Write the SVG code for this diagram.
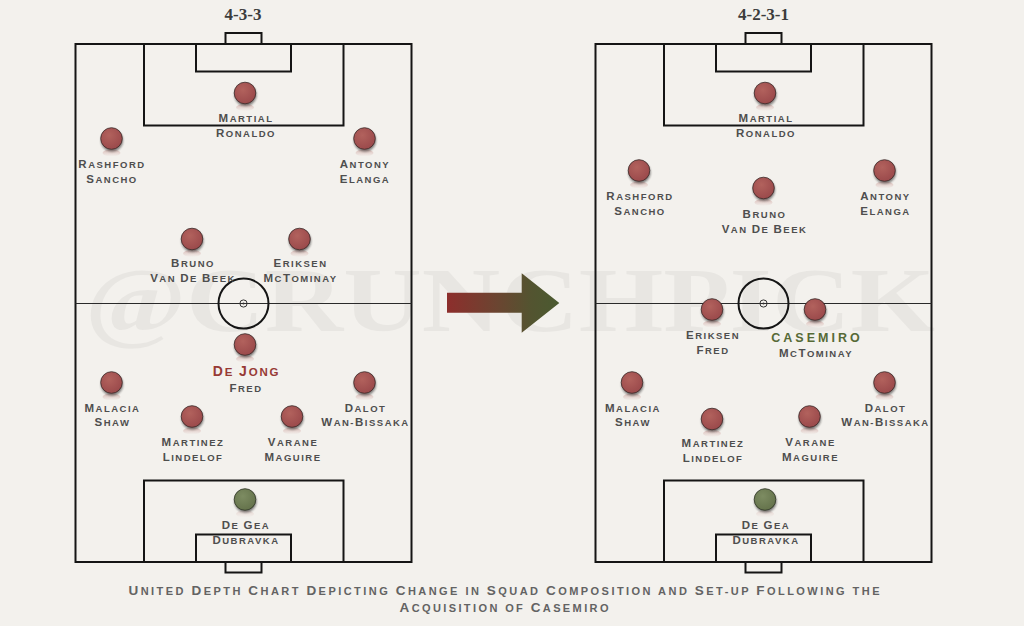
<svg xmlns="http://www.w3.org/2000/svg" xmlns:xlink="http://www.w3.org/1999/xlink" width="1024" height="626" viewBox="0 0 1024 626">
<style>
.ln{fill:none;stroke:#151515;stroke-width:2}
.hl{fill:none;stroke:#2a2a2a;stroke-width:1}
.nm{font-family:"Liberation Sans",Arial,sans-serif;font-weight:bold;font-size:9.5px;text-transform:uppercase;letter-spacing:1.5px;fill:#4e4e4e;text-anchor:middle}
.nm .c{font-size:11.5px}
.red{font-size:11.5px;letter-spacing:1.8px;fill:#973a35}
.red .c{font-size:14px}
.cas{font-family:"Liberation Sans",Arial,sans-serif;font-weight:bold;font-size:12.5px;letter-spacing:3px;fill:#566a36;text-anchor:middle}
.ttl{font-family:"Liberation Serif","Times New Roman",serif;font-weight:bold;font-size:17px;fill:#3c3c3c;text-anchor:middle}
.cap{font-family:"Liberation Sans",Arial,sans-serif;font-weight:bold;font-size:11px;text-transform:uppercase;fill:#636363;text-anchor:middle}
.cap .c{font-size:13.5px}
.wm{font-family:"Liberation Serif","Times New Roman",serif;font-weight:bold;font-size:92px;fill:#000;fill-opacity:0.045}
</style>
<defs>
<radialGradient id="rg" cx="0.4" cy="0.35" r="0.7">
<stop offset="0" stop-color="#b2625d"/><stop offset="1" stop-color="#99484a"/>
</radialGradient>
<radialGradient id="gg" cx="0.4" cy="0.35" r="0.7">
<stop offset="0" stop-color="#7d8c62"/><stop offset="1" stop-color="#63714a"/>
</radialGradient>
<linearGradient id="refl" x1="0" y1="0" x2="0" y2="1">
<stop offset="0" stop-color="#b0605b" stop-opacity="0.35"/><stop offset="1" stop-color="#b0605b" stop-opacity="0"/>
</linearGradient>
<linearGradient id="arr" x1="447" y1="0" x2="559" y2="0" gradientUnits="userSpaceOnUse">
<stop offset="0" stop-color="#8d2e2c"/><stop offset="0.45" stop-color="#6b4531"/><stop offset="0.75" stop-color="#535430"/><stop offset="1" stop-color="#4a5a30"/>
</linearGradient>
<filter id="blur" x="-50%" y="-50%" width="200%" height="200%"><feGaussianBlur stdDeviation="1.3"/></filter>
<g id="disc">
<ellipse cx="0" cy="14.5" rx="9" ry="3.5" fill="url(#refl)"/>
<circle cx="0.5" cy="2" r="11" fill="#1e1e1e" opacity="0.55" filter="url(#blur)"/>
<circle r="10.8" fill="url(#rg)" stroke="#3a2b29" stroke-width="0.8"/>
</g>
<g id="discG">
<ellipse cx="0" cy="14.5" rx="9" ry="3.5" fill="url(#refl)" opacity="0.5"/>
<circle cx="0.5" cy="2" r="11" fill="#1e1e1e" opacity="0.55" filter="url(#blur)"/>
<circle r="10.8" fill="url(#gg)" stroke="#2f3526" stroke-width="0.8"/>
</g>
<g id="pitch">
<rect class="ln" x="75.5" y="44" width="336" height="518"/>
<rect class="ln" x="144" y="44" width="199.5" height="81.5"/>
<rect class="ln" x="196" y="44" width="95" height="27.5"/>
<rect class="ln" x="225.5" y="33" width="36" height="11"/>
<rect class="ln" x="144" y="480.5" width="199.5" height="81.5"/>
<rect class="ln" x="196" y="534.5" width="95" height="27.5"/>
<rect class="ln" x="225.5" y="562" width="36" height="10.5"/>
<line class="hl" x1="75.5" y1="303.5" x2="411.5" y2="303.5"/>
<circle class="ln" cx="243.5" cy="303.5" r="25"/>
<circle cx="243.5" cy="303.5" r="3.6" fill="none" stroke="#333" stroke-width="1"/>
<circle cx="243.5" cy="303.5" r="1" fill="#333"/>
</g>
</defs>
<rect width="1024" height="626" fill="#f3f1ed"/>
<text class="wm" x="85" y="331" textLength="850" lengthAdjust="spacingAndGlyphs">@CRUNCHPICK</text>

<g id="pitch-left"><use xlink:href="#pitch"/><text class="ttl" x="243" y="20">4-3-3</text></g>
<g id="pitch-right"><use xlink:href="#pitch" x="520"/><text class="ttl" x="763.5" y="20">4-2-3-1</text></g>

<g id="connectors"><path d="M447 292.7 H521.7 V273.3 L559.3 303 L521.7 332.7 V312.7 H447 Z" fill="url(#arr)"/></g>

<g id="l-fw"><use xlink:href="#disc" x="245" y="93"/><text class="nm" x="246" y="122"><tspan class="c">M</tspan>artial</text><text class="nm" x="246" y="137"><tspan class="c">R</tspan>onaldo</text></g>
<g id="l-lw"><use xlink:href="#disc" x="111.5" y="138.5"/><text class="nm" x="112" y="168"><tspan class="c">R</tspan>ashford</text><text class="nm" x="112" y="183"><tspan class="c">S</tspan>ancho</text></g>
<g id="l-rw"><use xlink:href="#disc" x="364.5" y="138.5"/><text class="nm" x="365" y="168"><tspan class="c">A</tspan>ntony</text><text class="nm" x="365" y="183"><tspan class="c">E</tspan>langa</text></g>
<g id="l-lcm"><use xlink:href="#disc" x="192" y="239"/><text class="nm" x="193" y="267"><tspan class="c">B</tspan>runo</text><text class="nm" x="193" y="282"><tspan class="c">V</tspan>an <tspan class="c">D</tspan>e <tspan class="c">B</tspan>eek</text></g>
<g id="l-rcm"><use xlink:href="#disc" x="299.5" y="239"/><text class="nm" x="300.5" y="267"><tspan class="c">E</tspan>riksen</text><text class="nm" x="300.5" y="282"><tspan class="c">M</tspan>c<tspan class="c">T</tspan>ominay</text></g>
<g id="l-dm"><use xlink:href="#disc" x="245" y="344.5"/><text class="nm red" x="246.5" y="376"><tspan class="c">D</tspan>e <tspan class="c">J</tspan>ong</text><text class="nm" x="246" y="391.5"><tspan class="c">F</tspan>red</text></g>
<g id="l-lb"><use xlink:href="#disc" x="111.5" y="382.5"/><text class="nm" x="112.5" y="411.5"><tspan class="c">M</tspan>alacia</text><text class="nm" x="112.5" y="426"><tspan class="c">S</tspan>haw</text></g>
<g id="l-rb"><use xlink:href="#disc" x="364.5" y="382.5"/><text class="nm" x="365.5" y="411.5"><tspan class="c">D</tspan>alot</text><text class="nm" x="365.5" y="426"><tspan class="c">W</tspan>an-<tspan class="c">B</tspan>issaka</text></g>
<g id="l-lcb"><use xlink:href="#disc" x="192" y="416.5"/><text class="nm" x="193" y="446"><tspan class="c">M</tspan>artinez</text><text class="nm" x="193" y="460.5"><tspan class="c">L</tspan>indelof</text></g>
<g id="l-rcb"><use xlink:href="#disc" x="292" y="416.5"/><text class="nm" x="293" y="446"><tspan class="c">V</tspan>arane</text><text class="nm" x="293" y="460.5"><tspan class="c">M</tspan>aguire</text></g>
<g id="l-gk"><use xlink:href="#discG" x="245" y="499.5"/><text class="nm" x="246" y="529"><tspan class="c">D</tspan>e <tspan class="c">G</tspan>ea</text><text class="nm" x="246" y="544"><tspan class="c">D</tspan>ubravka</text></g>

<g id="r-fw"><use xlink:href="#disc" x="765" y="93"/><text class="nm" x="766" y="122"><tspan class="c">M</tspan>artial</text><text class="nm" x="766" y="137"><tspan class="c">R</tspan>onaldo</text></g>
<g id="r-lw"><use xlink:href="#disc" x="639" y="170.5"/><text class="nm" x="640" y="199.5"><tspan class="c">R</tspan>ashford</text><text class="nm" x="640" y="214.5"><tspan class="c">S</tspan>ancho</text></g>
<g id="r-rw"><use xlink:href="#disc" x="884.5" y="170.5"/><text class="nm" x="885.5" y="199.5"><tspan class="c">A</tspan>ntony</text><text class="nm" x="885.5" y="214.5"><tspan class="c">E</tspan>langa</text></g>
<g id="r-am"><use xlink:href="#disc" x="763.5" y="188"/><text class="nm" x="764.5" y="217.5"><tspan class="c">B</tspan>runo</text><text class="nm" x="764.5" y="232.5"><tspan class="c">V</tspan>an <tspan class="c">D</tspan>e <tspan class="c">B</tspan>eek</text></g>
<g id="r-ldm"><use xlink:href="#disc" x="712" y="309.5"/><text class="nm" x="713" y="338.5"><tspan class="c">E</tspan>riksen</text><text class="nm" x="713" y="353.5"><tspan class="c">F</tspan>red</text></g>
<g id="r-rdm"><use xlink:href="#disc" x="815" y="309.5"/><text class="cas" x="817" y="341.5">CASEMIRO</text><text class="nm" x="816" y="357"><tspan class="c">M</tspan>c<tspan class="c">T</tspan>ominay</text></g>
<g id="r-lb"><use xlink:href="#disc" x="632" y="382.5"/><text class="nm" x="633" y="411.5"><tspan class="c">M</tspan>alacia</text><text class="nm" x="633" y="426"><tspan class="c">S</tspan>haw</text></g>
<g id="r-rb"><use xlink:href="#disc" x="884.5" y="382.5"/><text class="nm" x="885.5" y="411.5"><tspan class="c">D</tspan>alot</text><text class="nm" x="885.5" y="426"><tspan class="c">W</tspan>an-<tspan class="c">B</tspan>issaka</text></g>
<g id="r-lcb"><use xlink:href="#disc" x="712" y="419"/><text class="nm" x="713" y="447"><tspan class="c">M</tspan>artinez</text><text class="nm" x="713" y="462"><tspan class="c">L</tspan>indelof</text></g>
<g id="r-rcb"><use xlink:href="#disc" x="809.5" y="416.5"/><text class="nm" x="810.5" y="446"><tspan class="c">V</tspan>arane</text><text class="nm" x="810.5" y="460.5"><tspan class="c">M</tspan>aguire</text></g>
<g id="r-gk"><use xlink:href="#discG" x="765" y="499.5"/><text class="nm" x="766" y="529"><tspan class="c">D</tspan>e <tspan class="c">G</tspan>ea</text><text class="nm" x="766" y="544"><tspan class="c">D</tspan>ubravka</text></g>

<g id="caption">
<text class="cap" x="504" y="595" textLength="751" lengthAdjust="spacing"><tspan class="c">U</tspan>nited <tspan class="c">D</tspan>epth <tspan class="c">C</tspan>hart <tspan class="c">D</tspan>epicting <tspan class="c">C</tspan>hange in <tspan class="c">S</tspan>quad <tspan class="c">C</tspan>omposition and <tspan class="c">S</tspan>et-up <tspan class="c">F</tspan>ollowing the</text>
<text class="cap" x="504" y="612" textLength="209" lengthAdjust="spacing"><tspan class="c">A</tspan>cquisition of <tspan class="c">C</tspan>asemiro</text>
</g>
</svg>
